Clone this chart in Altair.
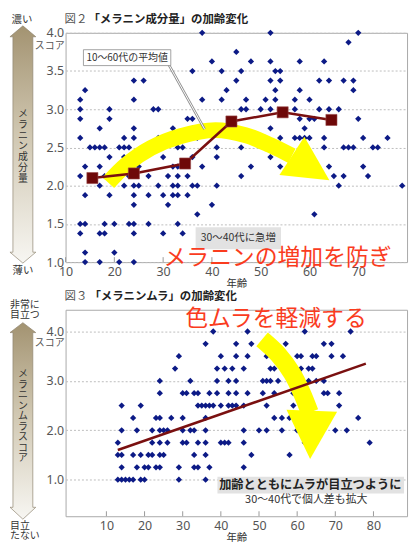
import altair as alt
import pandas as pd

JP = "Noto Sans CJK JP"
NUM = "Noto Sans"
DOT = "#0c1a86"
BROWN = "#7a1010"
YELLOW = "#ffff00"
RED = "#fa3c1e"

# ---------------- Fig.2 : melanin amount score vs age (rows of equal score) ----------------
fig2_row_scores = [4.0, 3.875, 3.75, 3.625, 3.5, 3.375, 3.25, 3.125, 3.0, 2.875, 2.75, 2.625,
                   2.5, 2.375, 2.25, 2.125, 2.0, 1.875, 1.75, 1.625, 1.5, 1.375, 1.125, 1.0]
fig2_row_ages = [
    [38, 52, 70],
    [68],
    [45],
    [40, 48, 52, 58, 63],
    [36, 42, 46, 53, 54],
    [24, 26, 45, 52, 54, 62, 64, 67, 69],
    [14, 43, 53, 58, 69],
    [13, 24, 38, 42, 47, 51, 53, 57, 60],
    [13, 19, 28, 29, 46, 47, 50, 52, 57, 62, 64, 66],
    [13, 19, 35, 36, 58, 60, 61, 70],
    [17, 24, 32, 36, 41, 52, 59],
    [13, 22, 24, 29, 30, 35, 37, 51, 54, 57, 58, 59, 60, 63, 71, 76],
    [15, 16, 17, 18, 21, 22, 23, 27, 33, 34, 41, 46, 63, 67, 68, 69, 73, 74],
    [19, 22, 30, 36, 41, 52],
    [14, 17, 25, 32, 33, 38, 48, 54, 64, 71],
    [13, 18, 23, 27, 31, 33, 35, 46, 65, 67, 72],
    [17, 22, 24, 25, 29, 32, 33, 36, 37, 41, 66, 79],
    [14, 19, 24, 27, 30, 32, 33, 35],
    [24, 31, 40],
    [37, 61],
    [13, 14, 18, 20, 23, 24, 27, 33],
    [13, 17, 18, 24, 30, 34],
    [14, 20],
    [14, 17, 21, 24],
]
# decade averages (10s-60s)
avg_age = [15.5, 24, 34.5, 44, 54.5, 64.5]
avg_score = [2.10, 2.16, 2.29, 2.84, 2.96, 2.86]

# ---------------- Fig.3 : melanin unevenness score vs age ----------------
fig3_row_scores = [4.0, 3.75, 3.5, 3.25, 3.0, 2.75, 2.5, 2.25, 2.0, 1.75, 1.5, 1.25, 1.0]
fig3_row_ages = [
    [38, 47, 62, 74],
    [36, 44, 48, 57, 67, 69],
    [29, 40, 44, 47, 52, 60, 61, 64, 65, 69, 72],
    [28, 39, 41, 43, 46, 53, 54, 58, 61, 63, 64],
    [24, 32, 39, 42, 44, 51, 52, 53, 55, 59, 63, 65, 67],
    [24, 30, 31, 33, 34, 37, 39, 42, 44, 47, 51, 54, 59, 67, 68, 71],
    [14, 19, 34, 35, 36, 37, 38, 40, 42, 43, 44, 46, 52, 59, 71],
    [17, 23, 24, 27, 30, 36, 54, 56, 58, 76],
    [14, 18, 22, 24, 25, 26, 30, 32, 33, 36, 46, 50, 52, 56, 60, 70, 73],
    [13, 22, 24, 26, 30, 31, 34, 36, 40, 41, 42, 46, 62, 79],
    [13, 14, 17, 19, 21, 22, 24, 25, 33, 36, 48, 58],
    [14, 18, 20, 21, 23, 24, 29, 33, 34, 37, 46],
    [13, 14, 15, 16, 17, 19, 20, 29, 36],
]
trend_age = [13, 78]
trend_score = [1.60, 3.35]

# axis tick labels
fig2_xticks = [10, 20, 30, 40, 50, 60, 70]
fig2_yticks = [1.0, 1.5, 2.0, 2.5, 3.0, 3.5, 4.0]
fig3_xticks = [10, 20, 30, 40, 50, 60, 70, 80]
fig3_yticks = [1.0, 2.0, 3.0, 4.0]

# yellow guide arrows (annotation paths in data units)
arc2_age = [18.75, 22.41, 27.5, 33.61, 40.73, 46.83, 51.92, 56.4]
arc2_score = [2.039, 2.273, 2.494, 2.649, 2.727, 2.662, 2.532, 2.39]
arc3_age = [50.81, 54.98, 58.62, 61.22, 63.3]
arc3_score = [3.84, 3.54, 3.16, 2.76, 2.36]


def rows_to_df(scores, ages):
    recs = []
    for s, al in zip(scores, ages):
        for a in al:
            recs.append({"age": a, "score": s})
    return pd.DataFrame(recs)


df2 = rows_to_df(fig2_row_scores, fig2_row_ages)
df3 = rows_to_df(fig3_row_scores, fig3_row_ages)

W = 344
H2, H3 = 231, 208
D2X, D2Y = [10, 80], [1, 4]
D3X, D3Y = [-0.7, 88.8], [0.26, 4.44]


def xaxis(vals):
    return alt.Axis(values=vals, title="年齢", grid=False, ticks=False, domain=False,
                    labelFont=NUM, labelFontSize=12.5, labelColor="#555", labelPadding=3,
                    labelFlush=False, titleFont=JP, titleFontSize=10.5, titleFontWeight="normal",
                    titleColor="#333", titlePadding=1)


def yaxis(vals):
    return alt.Axis(values=vals, format=".1f", title=None, grid=True, gridColor="#bdbdbd",
                    gridDash=[2, 2], gridWidth=1, ticks=False, domain=False,
                    labelFont=NUM, labelFontSize=12.5, labelColor="#555", labelPadding=2,
                    labelFlush=False)


AX = {2: (D2X, D2Y, xaxis(fig2_xticks), yaxis(fig2_yticks)),
      3: (D3X, D3Y, xaxis(fig3_xticks), yaxis(fig3_yticks))}


def X(fig, field="age"):
    dx, _, ax, _ = AX[fig]
    return alt.X(f"{field}:Q", scale=alt.Scale(domain=dx, nice=False, zero=False), axis=ax)


def Y(fig, field="score"):
    _, dy, _, ay = AX[fig]
    return alt.Y(f"{field}:Q", scale=alt.Scale(domain=dy, nice=False, zero=False), axis=ay)


one = pd.DataFrame({"k": [0]})
GRAD = alt.LinearGradient(
    gradient="linear",
    stops=[alt.GradientStop(color="#a39371", offset=0),
           alt.GradientStop(color="#cfc6b0", offset=0.45),
           alt.GradientStop(color="#f7f6f2", offset=1)],
    x1=0, x2=0, y1=0, y2=1)

ARROW2 = ("M0,-1L0.109,-0.908L0.084,-0.908L0.084,0.908L0.109,0.908L0,1"
          "L-0.109,0.908L-0.084,0.908L-0.084,-0.908L-0.109,-0.908Z")
ARROW3 = ("M0,-1L0.131,-0.899L0.101,-0.899L0.101,0.879L0.131,0.879L0,1"
          "L-0.131,0.879L-0.101,0.879L-0.101,-0.899L-0.131,-0.899Z")
TRI2 = "M-0.5,-0.767L1,0L-0.5,0.767Z"
TRI3 = "M-0.5,-0.787L1,0L-0.5,0.787Z"


def label(text, x, y, size=10.5, align="center", weight="normal", color="#333", font=JP):
    return alt.Chart(one).mark_text(text=text, font=font, fontSize=size, align=align,
                                    baseline="middle", fontWeight=weight, color=color).encode(
        x=alt.value(x), y=alt.value(y))


def vtext(text, x, y_first, lh):
    # one character per line, first line centred on y_first
    return alt.Chart(one).mark_text(text=list(text), font=JP, fontSize=10, lineHeight=lh,
                                    align="center", baseline="middle", color="#333").encode(
        x=alt.value(x), y=alt.value(y_first))


def side_arrow(path, size, y):
    return alt.Chart(one).mark_point(shape=path, size=size, filled=True, fill=GRAD,
                                     stroke="#8f8671", strokeWidth=0.7, opacity=1).encode(
        x=alt.value(-43), y=alt.value(y))


def inner_ticks(vals, fig, h):
    return alt.Chart(pd.DataFrame({"age": vals})).mark_rule(color="#9a9a9a", strokeWidth=1).encode(
        x=X(fig), y=alt.value(h), y2=alt.value(h - 5))


def rect(fig, x1, x2, y1, y2, **kw):
    return alt.Chart(pd.DataFrame({"x1": [x1], "x2": [x2], "y1": [y1], "y2": [y2]})).mark_rect(**kw).encode(
        x=X(fig, "x1"), x2="x2:Q", y=Y(fig, "y1"), y2="y2:Q")


def note(fig, age, score, text, **kw):
    return alt.Chart(pd.DataFrame({"age": [age], "score": [score], "t": [text]})).mark_text(
        font=JP, **kw).encode(x=X(fig), y=Y(fig), text="t:N")


# ======================= top chart (Fig.2) =======================
pts2 = alt.Chart(df2).mark_point(shape="diamond", filled=True, color=DOT, size=40, opacity=1).encode(
    x=X(2), y=Y(2))

arc2 = alt.Chart(pd.DataFrame({"age": arc2_age, "score": arc2_score, "i": range(len(arc2_age))})).mark_line(
    color=YELLOW, strokeWidth=16, strokeCap="butt", interpolate="catmull-rom").encode(
    x=X(2), y=Y(2), order="i:Q")
head2 = alt.Chart(pd.DataFrame({"age": [58.96], "score": [2.283]})).mark_point(
    shape=TRI2, size=3600, angle=33, filled=True, color=YELLOW, opacity=1, strokeWidth=0).encode(
    x=X(2), y=Y(2))

avg_df = pd.DataFrame({"age": avg_age, "score": avg_score})
avg_line = alt.Chart(avg_df).mark_line(color=BROWN, strokeWidth=2.5).encode(x=X(2), y=Y(2))
avg_sq = alt.Chart(avg_df).mark_point(shape="square", filled=True, color="#6e0808", size=125,
                                      opacity=1, stroke="#9c4a4a", strokeWidth=0.6).encode(
    x=X(2), y=Y(2))

lead = pd.DataFrame({"x1": [31.16], "x2": [38.49], "y1": [3.584], "y2": [2.74]})
lead_g = alt.Chart(lead).mark_rule(color="#8c8c8c", strokeWidth=2.6).encode(
    x=X(2, "x1"), x2="x2:Q", y=Y(2, "y1"), y2="y2:Q")
lead_w = alt.Chart(lead).mark_rule(color="white", strokeWidth=1).encode(
    x=X(2, "x1"), x2="x2:Q", y=Y(2, "y1"), y2="y2:Q")

top = alt.layer(
    pts2, arc2, head2, avg_line, avg_sq, lead_g, lead_w,
    rect(2, 13.66, 31.57, 3.779, 3.571, fill="white", stroke="#8c8c8c", strokeWidth=0.8),
    note(2, 22.62, 3.675, "10〜60代の平均値", fontSize=10, color="#333"),
    rect(2, 36.66, 54.16, 1.455, 1.169, fill="#e2e2e2"),
    note(2, 45.41, 1.312, "30〜40代に急増", fontSize=10.5, color="#333"),
    note(2, 53.45, 1.052, "メラニンの増加を防ぎ", fontSize=23, color=RED),
    inner_ticks(fig2_xticks, 2, H2),
    side_arrow(ARROW2, 57121, 112.5),
    vtext("メラニン成分量", -43, 81.5, 11),
    label("濃い", -44, -13.3),
    label("薄い", -43, 240),
    label("図２", -1, -13.3, size=11.5, align="left", color="#555"),
    label("「メラニン成分量」の加齢変化", 23, -13.3, size=11.5, align="left", weight="bold", color="#222"),
    label("スコア", -1, 13, size=10, align="right", color="#555"),
).properties(width=W, height=H2)

# ======================= bottom chart (Fig.3) =======================
pts3 = alt.Chart(df3).mark_point(shape="diamond", filled=True, color=DOT, size=40, opacity=1).encode(
    x=X(3), y=Y(3))

arc3 = alt.Chart(pd.DataFrame({"age": arc3_age, "score": arc3_score, "i": range(len(arc3_age))})).mark_line(
    color=YELLOW, strokeWidth=18, strokeCap="butt", interpolate="catmull-rom").encode(
    x=X(3), y=Y(3), order="i:Q")
head3 = alt.Chart(pd.DataFrame({"age": [63.69], "score": [2.07]})).mark_point(
    shape=TRI3, size=4199, angle=92, filled=True, color=YELLOW, opacity=1, strokeWidth=0).encode(
    x=X(3), y=Y(3))

trend = alt.Chart(pd.DataFrame({"age": trend_age, "score": trend_score})).mark_line(
    color=BROWN, strokeWidth=2.5).encode(x=X(3), y=Y(3))

bottom = alt.layer(
    pts3, arc3, head3, trend,
    note(3, 54.46, 4.26, "色ムラを軽減する", fontSize=23, color=RED),
    rect(3, 39.11, 88.02, 1.06, 0.72, fill="#e2e2e2"),
    note(3, 63.43, 0.89, "加齢とともにムラが目立つように", fontSize=12.3, fontWeight="bold", color="#222"),
    note(3, 62.39, 0.58, "30〜40代で個人差も拡大", fontSize=11, color="#333"),
    inner_ticks(fig3_xticks, 3, H3),
    side_arrow(ARROW3, 39204, 112),
    vtext("メラニンムラスコア", -43, 65, 10.6),
    label("非常に", -56, -4.3, size=10, align="left"),
    label("目立つ", -56, 5.7, size=10, align="left"),
    label("目立", -56, 218, size=10, align="left"),
    label("たない", -56, 228, size=10, align="left"),
    label("図３", -1, -13.3, size=11.5, align="left", color="#555"),
    label("「メラニンムラ」の加齢変化", 24, -13.3, size=11.5, align="left", weight="bold", color="#222"),
    label("スコア", -1, 34, size=10, align="right", color="#555"),
).properties(width=W, height=H3)

chart = alt.vconcat(top, bottom, spacing=0).properties(
    padding={"left": 0, "top": 3, "right": 4, "bottom": 0}, background="white"
).configure_view(stroke="#a9a9a9", strokeWidth=1)

chart.save("out.html", embed_options={"renderer": "svg", "actions": False})
